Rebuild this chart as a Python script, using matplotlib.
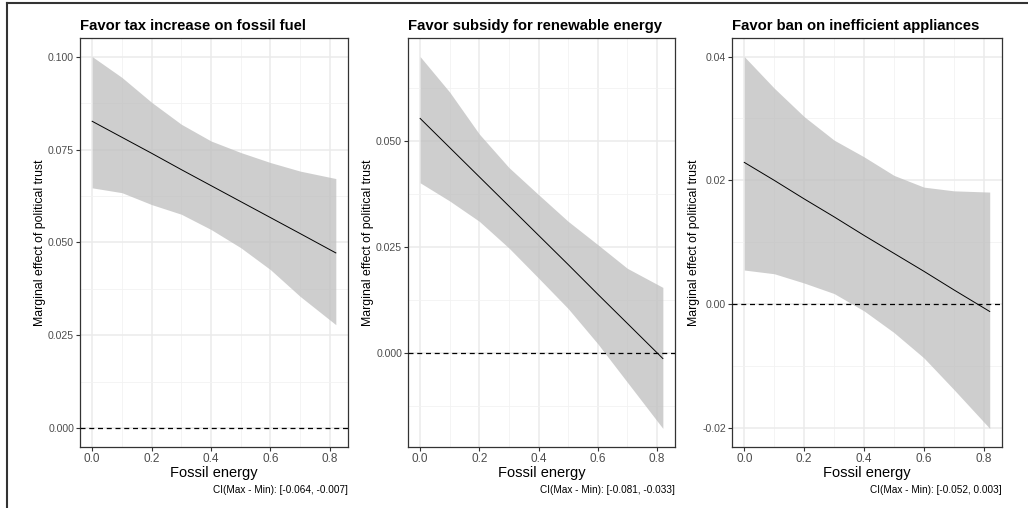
import numpy as np
import matplotlib
matplotlib.use("Agg")
import matplotlib.pyplot as plt
from matplotlib.lines import Line2D
from matplotlib.ticker import FormatStrFormatter, MultipleLocator

plt.rcParams["font.family"] = ["Liberation Sans", "DejaVu Sans"]

fossil = [0.0, 0.1, 0.2, 0.3, 0.4, 0.5, 0.6, 0.7, 0.82]

titles = [
    "Favor tax increase on fossil fuel",
    "Favor subsidy for renewable energy",
    "Favor ban on inefficient appliances",
]
captions = [
    "CI(Max - Min): [-0.064, -0.007]",
    "CI(Max - Min): [-0.081, -0.033]",
    "CI(Max - Min): [-0.052, 0.003]",
]

tax_effect = [0.0826, 0.0783, 0.0740, 0.0696, 0.0653, 0.0610, 0.0567, 0.0524, 0.0472]
tax_upper = [0.1000, 0.0944, 0.0877, 0.0818, 0.0773, 0.0742, 0.0715, 0.0692, 0.0672]
tax_lower = [0.0647, 0.0634, 0.0602, 0.0576, 0.0535, 0.0486, 0.0427, 0.0355, 0.0279]

sub_effect = [0.0553, 0.0484, 0.0415, 0.0346, 0.0277, 0.0208, 0.0138, 0.0069, -0.0014]
sub_upper = [0.0699, 0.0615, 0.0516, 0.0437, 0.0373, 0.0310, 0.0255, 0.0199, 0.0154]
sub_lower = [0.0401, 0.0358, 0.0310, 0.0247, 0.0176, 0.0104, 0.0021, -0.0070, -0.0179]

ban_effect = [0.0229, 0.0200, 0.0170, 0.0141, 0.0111, 0.0082, 0.0053, 0.0023, -0.0012]
ban_upper = [0.0400, 0.0349, 0.0303, 0.0265, 0.0238, 0.0208, 0.0189, 0.0183, 0.0181]
ban_lower = [0.0055, 0.0049, 0.0034, 0.0017, -0.0011, -0.0046, -0.0087, -0.0138, -0.0201]

panels = [
    (tax_effect, tax_upper, tax_lower, 0.025, "%.3f"),
    (sub_effect, sub_upper, sub_lower, 0.025, "%.3f"),
    (ban_effect, ban_upper, ban_lower, 0.02, "%.2f"),
]

W, H = 1028, 508
fig = plt.figure(figsize=(W / 100, H / 100), dpi=100)

# axes boxes in pixels: left, right, top, bottom
boxes = [(80, 348, 38, 447), (408, 675, 38, 447), (732, 1002, 38, 447)]

for (eff, up, lo, step, fmt), (l, r, t, b), title, cap in zip(panels, boxes, titles, captions):
    ax = fig.add_axes([l / W, 1 - b / H, (r - l) / W, (b - t) / H])
    ax.set_facecolor("white")

    x = np.array(fossil)
    ymin = min(min(lo), 0.0)
    ymax = max(max(up), 0.0)
    ypad = (ymax - ymin) * 0.05
    xpad = (x.max() - x.min()) * 0.05
    ax.set_xlim(x.min() - xpad, x.max() + xpad)
    ax.set_ylim(ymin - ypad, ymax + ypad)

    ax.xaxis.set_major_locator(MultipleLocator(0.2))
    ax.xaxis.set_minor_locator(MultipleLocator(0.1))
    ax.yaxis.set_major_locator(MultipleLocator(step))
    ax.yaxis.set_minor_locator(MultipleLocator(step / 2))
    ax.xaxis.set_major_formatter(FormatStrFormatter("%.1f"))
    ax.yaxis.set_major_formatter(FormatStrFormatter(fmt))

    ax.grid(True, which="major", color="#EBEBEB", linewidth=1.1, zorder=0)
    ax.grid(True, which="minor", color="#F2F2F2", linewidth=0.6, zorder=0)
    ax.set_axisbelow(True)

    ax.fill_between(x, lo, up, color="#BEBEBE", alpha=0.75, linewidth=0, zorder=2)
    ax.plot(x, eff, color="black", linewidth=0.7, zorder=3)
    ax.axhline(0, color="black", linestyle=(0, (4, 3)), linewidth=0.9, zorder=3)

    for s in ax.spines.values():
        s.set_color("#333333")
        s.set_linewidth(0.9)
    ax.tick_params(which="major", length=2.75, width=0.8, color="#333333",
                   labelcolor="#4D4D4D", pad=1.5)
    ax.tick_params(axis="x", labelsize=8.5)
    ax.tick_params(axis="y", labelsize=7.6)
    ax.tick_params(which="minor", length=0)

    ax.set_title(title, loc="left", fontsize=10.7, fontweight="bold", pad=6)
    ax.set_xlabel("Fossil energy", fontsize=10.5, labelpad=1)
    ax.set_ylabel("Marginal effect of political trust", fontsize=8.8, labelpad=1.5)
    fig.text(r / W, 1 - 490 / H, cap, ha="right", va="center", fontsize=7.2)

# frame around figure (left and top edges visible)
fig.add_artist(Line2D([6.5 / W, 6.5 / W], [0, 1 - 2.5 / H], color="#333333", linewidth=1.5))
fig.add_artist(Line2D([6.5 / W, 1], [1 - 2.5 / H, 1 - 2.5 / H], color="#333333", linewidth=1.5))

fig.savefig("out.png", dpi=100, facecolor="white")
